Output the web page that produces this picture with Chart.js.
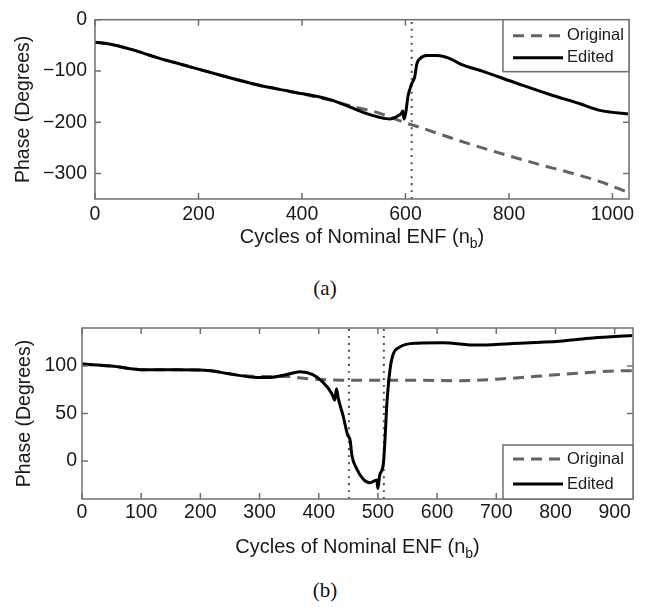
<!DOCTYPE html>
<html>
<head>
<meta charset="utf-8">
<script src="https://cdn.jsdelivr.net/npm/chart.js@4.4.0/dist/chart.umd.min.js"></script>
<style>
  body { margin: 0; background: #fff; width: 646px; height: 607px; position: relative; overflow: hidden; }
  canvas { position: absolute; left: 0; }
  #chartA { top: 0; }
  #chartB { top: 300px; }
  .cap { position: absolute; left: 2px; width: 646px; text-align: center; font-family: "Liberation Serif", "Times New Roman", serif; font-size: 21px; color: #111; }
</style>
</head>
<body>
<canvas id="chartA" width="646" height="262"></canvas>
<div class="cap" style="top:276px">(a)</div>
<canvas id="chartB" width="646" height="268"></canvas>
<div class="cap" style="top:578px">(b)</div>
<script>
// ---- (a) ----
const editedAx = [0, 30, 70, 120, 184, 248, 313, 377, 454, 487, 518, 551, 570, 585, 592, 595, 597, 600, 605, 612, 618, 622, 628, 641, 661, 686, 705, 750, 815, 879, 937, 976, 1030];
const editedAy = [-44, -48, -58, -74, -92, -110, -127, -140, -156, -168, -181, -191, -194, -188, -183, -178, -194, -185, -149, -125, -111, -86, -76, -70, -70, -76, -86, -101, -124, -146, -164, -177, -184];
const originalAx = [0, 30, 70, 120, 184, 248, 313, 377, 454, 500, 545, 602, 615, 719, 846, 930, 976, 1030];
const originalAy = [-44, -48, -58, -74, -92, -110, -127, -140, -157, -170, -181, -202, -206, -241, -279, -302, -316, -337];
const cutsA = [612];
const xTicksA = [0, 200, 400, 600, 800, 1000];
const yTicksA = [-300, -200, -100, 0];

// ---- (b) ----
const editedBx = [0, 49, 106, 162, 218, 246, 297, 318, 346, 368, 390, 407, 422, 427, 430, 433, 441, 449, 453, 456, 464, 475, 486, 498, 500, 503, 509, 512, 515, 520, 525, 537, 566, 610, 667, 723, 807, 863, 930];
const editedBy = [102, 100, 96, 96, 95, 92, 88, 88, 91, 94, 91, 83, 71, 64, 76, 66, 48, 27, 22, 6, -8, -19, -23, -20, -29, -15, -4, 23, 59, 94, 111, 120, 124, 124.5, 122, 123.5, 126, 129.5, 132];
const originalBx = [0, 49, 106, 162, 218, 246, 297, 318, 346, 374, 458, 566, 639, 723, 807, 920, 930];
const originalBy = [102, 100, 96, 96, 95, 92, 89, 89, 89, 87, 85, 85, 84.5, 87, 91, 95, 95];
const cutsB = [451, 510];
const xTicksB = [0, 100, 200, 300, 400, 500, 600, 700, 800, 900];
const yTicksB = [0, 50, 100];

const FONT = '"Liberation Sans", Arial, Helvetica, sans-serif';

function pts(xs, ys) {
  return xs.map((x, i) => ({ x: x, y: ys[i] }));
}

// box, inner ticks, x title with subscript and the legend, matlab style
const framePlugin = {
  id: 'frame',
  afterDatasetsDraw(chart, args, opts) {
    const ctx = chart.ctx;
    const a = chart.chartArea;
    const xs = chart.scales.x, ys = chart.scales.y;
    ctx.save();
    ctx.strokeStyle = '#707070';
    ctx.lineWidth = 1.5;
    ctx.setLineDash([]);
    ctx.strokeRect(a.left, a.top, a.right - a.left, a.bottom - a.top);
    ctx.beginPath();
    xs.ticks.forEach(t => {
      const p = xs.getPixelForValue(t.value);
      ctx.moveTo(p, a.bottom); ctx.lineTo(p, a.bottom - 6);
      ctx.moveTo(p, a.top); ctx.lineTo(p, a.top + 6);
    });
    ys.ticks.forEach(t => {
      const p = ys.getPixelForValue(t.value);
      ctx.moveTo(a.left, p); ctx.lineTo(a.left + 6, p);
      ctx.moveTo(a.right, p); ctx.lineTo(a.right - 6, p);
    });
    ctx.stroke();

    // x title
    ctx.fillStyle = '#1a1a1a';
    ctx.textBaseline = 'middle';
    ctx.textAlign = 'left';
    const main = 'Cycles of Nominal ENF (n';
    ctx.font = '20px ' + FONT;
    const w1 = ctx.measureText(main).width;
    const w3 = ctx.measureText(')').width;
    ctx.font = '14px ' + FONT;
    const w2 = ctx.measureText('b').width;
    let tx = (a.left + a.right) / 2 - (w1 + w2 + w3) / 2;
    const ty = a.bottom + opts.titleDy;
    ctx.font = '20px ' + FONT;
    ctx.fillText(main, tx, ty);
    ctx.font = '14px ' + FONT;
    ctx.fillText('b', tx + w1, ty + 7);
    ctx.font = '20px ' + FONT;
    ctx.fillText(')', tx + w1 + w2, ty);

    // legend
    const L = opts.legend;
    const bx = a.right - L.w;
    const by = L.atTop ? a.top : a.bottom - L.h;
    ctx.fillStyle = '#fff';
    ctx.fillRect(bx, by, L.w, L.h);
    ctx.strokeStyle = '#707070';
    ctx.lineWidth = 1.5;
    ctx.strokeRect(bx, by, L.w, L.h);
    ctx.font = '16.5px ' + FONT;
    chart.data.datasets.forEach(ds => {
      if (!ds.label) return;
      const ry = by + (ds.label === 'Original' ? L.r1 : L.r2);
      ctx.strokeStyle = ds.borderColor;
      ctx.lineWidth = ds.borderWidth;
      ctx.setLineDash(ds.borderDash || []);
      ctx.beginPath();
      ctx.moveTo(bx + 10, ry);
      ctx.lineTo(bx + 60, ry);
      ctx.stroke();
      ctx.setLineDash([]);
      ctx.fillStyle = '#1a1a1a';
      ctx.fillText(ds.label, bx + 64, ry);
    });
    ctx.restore();
  }
};

function makeChart(id, o) {
  const datasets = [
    { label: 'Original', data: pts(o.origX, o.origY), borderColor: '#636363', borderWidth: 3, borderDash: [11, 7], order: 1 },
    { label: 'Edited', data: pts(o.editX, o.editY), borderColor: '#000000', borderWidth: 3, order: 0 }
  ];
  o.cuts.forEach(c => {
    datasets.push({ label: '', data: [{ x: c, y: o.yMin }, { x: c, y: o.yMax }], borderColor: '#505050', borderWidth: 2, borderDash: [2, 5], order: 2 });
  });

  return new Chart(document.getElementById(id), {
    type: 'line',
    data: { datasets: datasets },
    options: {
      responsive: false,
      animation: false,
      devicePixelRatio: 1,
      layout: { padding: o.padding },
      elements: {
        point: { radius: 0 },
        line: { cubicInterpolationMode: 'monotone', borderCapStyle: 'butt' }
      },
      scales: {
        x: {
          type: 'linear', min: 0, max: o.xMax,
          afterBuildTicks: s => { s.ticks = o.xTicks.map(v => ({ value: v })); },
          afterFit: s => { s.height = o.xAxisH; },
          grid: { display: false, drawTicks: false },
          border: { display: false },
          ticks: {
            color: '#1a1a1a', font: { family: FONT, size: 19.5 }, padding: o.xPad, maxRotation: 0, autoSkip: false,
            callback: v => String(v)
          }
        },
        y: {
          min: o.yMin, max: o.yMax,
          afterBuildTicks: s => { s.ticks = o.yTicks.map(v => ({ value: v })); },
          afterFit: s => { s.width = o.yAxisW; },
          grid: { display: false, drawTicks: false },
          border: { display: false },
          ticks: {
            color: '#1a1a1a', font: { family: FONT, size: 19.5 }, padding: o.yPad,
            callback: v => String(v).replace('-', '\u2212')
          },
          title: { display: true, text: 'Phase (Degrees)', color: '#1a1a1a', font: { family: FONT, size: 19.5 }, padding: { top: o.yTitlePad, bottom: 0 } }
        }
      },
      plugins: {
        legend: { display: false },
        tooltip: { enabled: false },
        frame: { titleDy: o.titleDy, legend: o.legend }
      }
    },
    plugins: [framePlugin]
  });
}

makeChart('chartA', {
  editX: editedAx, editY: editedAy, origX: originalAx, origY: originalAy, cuts: cutsA,
  xTicks: xTicksA, yTicks: yTicksA, xMax: 1032, yMin: -350, yMax: 0,
  padding: { left: 0, right: 17, top: 15, bottom: 0 },
  xAxisH: 63, yAxisW: 95, xPad: 4, yPad: 8, yTitlePad: 12, titleDy: 38,
  legend: { w: 126, h: 52, atTop: true, r1: 16, r2: 38 }
});

makeChart('chartB', {
  editX: editedBx, editY: editedBy, origX: originalBx, origY: originalBy, cuts: cutsB,
  xTicks: xTicksB, yTicks: yTicksB, xMax: 931, yMin: -40, yMax: 140,
  padding: { left: 0, right: 13, top: 28, bottom: 0 },
  xAxisH: 69, yAxisW: 82, xPad: 2, yPad: 5, yTitlePad: 13, titleDy: 48,
  legend: { w: 130, h: 54, atTop: false, r1: 14, r2: 39 }
});
</script>
</body>
</html>
